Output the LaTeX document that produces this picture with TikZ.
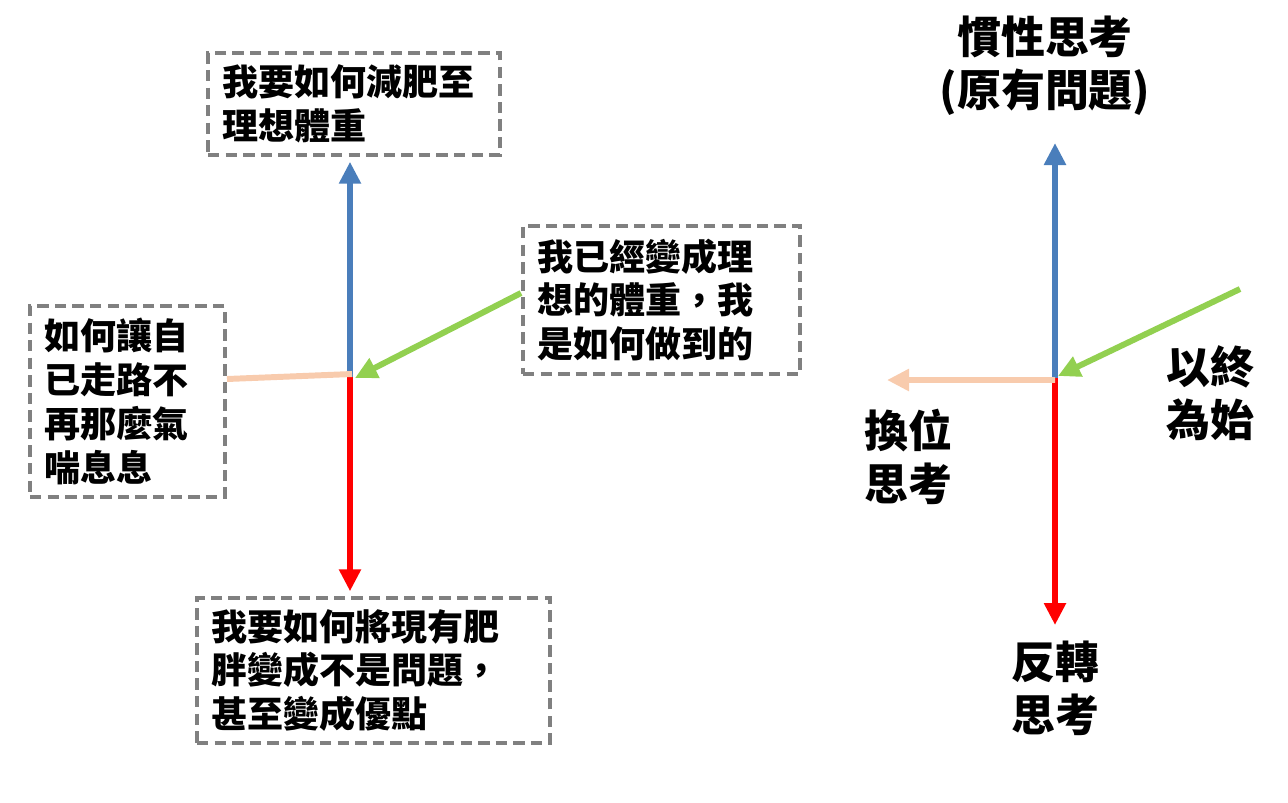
\documentclass[tikz,border=0pt]{standalone}
\usepackage{fontspec}
\setmainfont{Noto Sans CJK TC}
\usepackage{tikz}
\usetikzlibrary{arrows.meta}
\definecolor{axisblue}{RGB}{74,126,187}
\definecolor{axisred}{RGB}{255,0,0}
\definecolor{axisgreen}{RGB}{146,208,80}
\definecolor{axispeach}{RGB}{248,203,173}
\definecolor{boxgray}{RGB}{128,128,128}

\begin{document}
\begin{tikzpicture}[x=0.02cm,y=-0.02cm,
  qbox/.style={draw=boxgray, line width=2pt, dash pattern=on 6.5pt off 3.5pt, align=left, inner xsep=0.28cm, inner ysep=0pt, font=\fontsize{20.5pt}{25pt}\selectfont\bfseries},
  tag/.style={align=center, inner sep=0pt, font=\fontsize{25pt}{30pt}\selectfont\bfseries},
  axis/.style={line width=3.4pt, -{Triangle[length=0.44cm,width=0.42cm]}}]
\useasboundingbox (0,0) rectangle (1288,802);
\node [qbox, text width=5.28cm, minimum height=2.04cm] (goal) at (354,104) {我要如何減肥至\\理想體重};
\node [qbox, text width=4.98cm, minimum height=2.96cm] (done) at (661.5,300) {我已經變成理\\想的體重，我\\是如何做到的};
\node [qbox, text width=3.34cm, minimum height=3.82cm] (walk) at (127.5,401.5) {如何讓自\\已走路不\\再那麼氣\\喘息息};
\node [qbox, text width=6.5cm, minimum height=2.9cm] (merit) at (373.5,670.5) {我要如何將現有肥\\胖變成不是問題，\\甚至變成優點};
\coordinate (lc) at (350,377);
\coordinate (lg) at (521,293);
\coordinate (lp) at (227,379);
\draw [axis, axisblue] (lc) -- ([yshift=-0.1cm]goal.south -| lc);
\draw [axis, axisred] (lc) -- ([yshift=0.1cm]merit.north -| lc);
\draw [line width=3.4pt, axispeach] (lp) -- ([xshift=0.04cm,yshift=0.06cm]lc);
\draw [axis, axisgreen] (lg) -- ([xshift=0.1cm,yshift=-0.02cm]lc);

\node [tag] (inertia) at (1045,66) {慣性思考\\(原有問題)};
\node [tag] (swap) at (908,457) {換位\\思考};
\node [tag] (endfirst) at (1210,393) {以終\\為始};
\node [tag] (reverse) at (1055,688) {反轉\\思考};
\coordinate (rc) at (1055,378);
\coordinate (rtop) at (1055,143);
\coordinate (rbot) at (1055,625);
\coordinate (rleft) at (887,380);
\coordinate (rgreen) at (1240,289);
\draw [axis, axisblue] (rc) -- (rtop);
\draw [axis, axisred] (rc) -- (rbot);
\draw [axis, axispeach] ([yshift=-0.04cm]rc) -- (rleft);
\draw [axis, axisgreen] (rgreen) -- ([xshift=0.06cm,yshift=0.04cm]rc);
\end{tikzpicture}
\end{document}
